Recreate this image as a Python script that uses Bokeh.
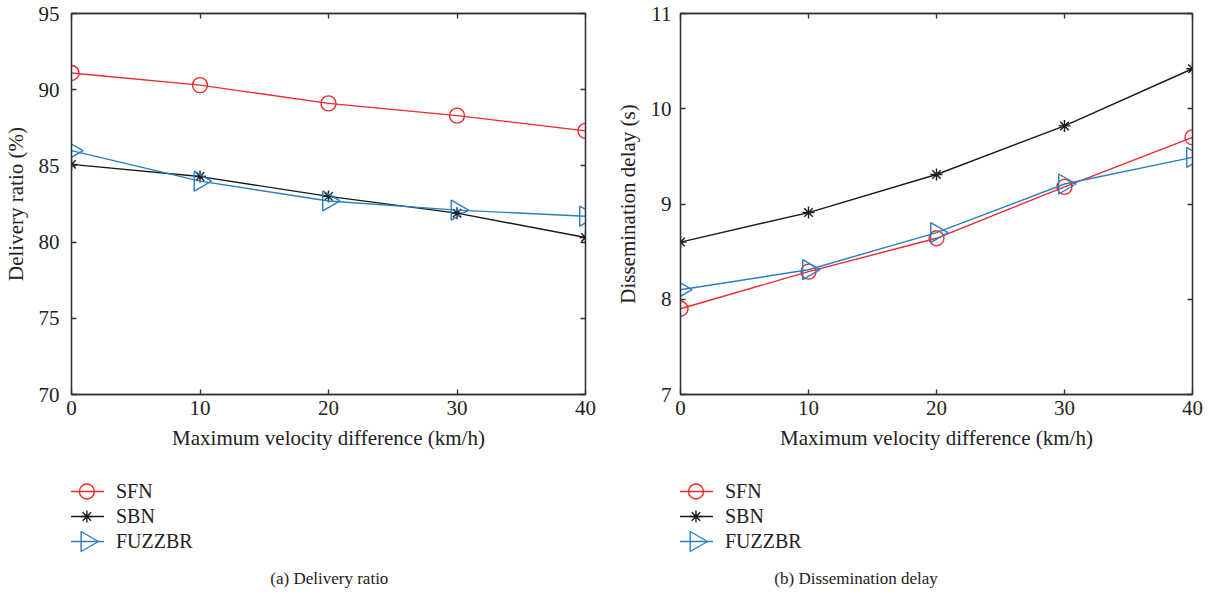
import math
from bokeh.plotting import figure
from bokeh.layouts import row, column
from bokeh.models import (Range1d, LinearAxis, FixedTicker, Legend, LegendItem, Label,
                          CustomLabelingPolicy)
from bokeh.embed import file_html
from bokeh.resources import INLINE

x_vals = [0, 10, 20, 30, 40]

ratio_sfn = [91.1, 90.3, 89.1, 88.3, 87.3]
ratio_sbn = [85.1, 84.3, 83.0, 81.9, 80.3]
ratio_fuzzbr = [86.0, 84.0, 82.7, 82.1, 81.7]

delay_sfn = [7.90, 8.29, 8.64, 9.18, 9.70]
delay_sbn = [8.60, 8.91, 9.31, 9.82, 10.42]
delay_fuzzbr = [8.10, 8.31, 8.70, 9.21, 9.49]

series_names = ["SFN", "SBN", "FUZZBR"]
x_label = "Maximum velocity difference (km/h)"
x_ticks = [0, 10, 20, 30, 40]
ratio_ticks = [70, 75, 80, 85, 90, 95]
delay_ticks = [7, 8, 9, 10, 11]

FONT = "Liberation Serif"
RED = "#ee2a2f"
BLUE = "#2b7ec0"
BLACK = "#1a1a1a"
COLORS = [RED, BLACK, BLUE]

# marker style per series: (marker, size, angle, filled-with-none)
MARKERS = {
    "SFN": ("circle", 15, 0.0),
    "SBN": ("asterisk", 12, 0.0),
    "FUZZBR": ("triangle", 20, -math.pi / 2),
}

NO_LABELS = CustomLabelingPolicy(code="""
    try {
        for (const i of Array.from(indices)) { indices.unset(i) }
    } catch (e) {}
    return indices
""")


def style_axis(ax, ticks, labels=True, standoff=8):
    ax.ticker = FixedTicker(ticks=ticks)
    ax.major_tick_in = 5
    ax.major_tick_out = 0
    ax.minor_tick_in = 0
    ax.minor_tick_out = 0
    ax.axis_line_color = "#333333"
    ax.axis_line_width = 1.3
    ax.major_tick_line_color = "#333333"
    ax.major_tick_line_width = 1.3
    ax.major_label_text_font = FONT
    ax.major_label_text_color = "#222222"
    if labels:
        ax.major_label_text_font_size = "21px"
        ax.major_label_standoff = standoff
        ax.axis_label_text_font = FONT
        ax.axis_label_text_font_size = "21px"
        ax.axis_label_text_font_style = "normal"
        ax.axis_label_text_color = "#222222"
    else:
        ax.major_label_text_font_size = "1px"
        ax.major_label_policy = NO_LABELS
        ax.major_label_standoff = 0


def add_marker(fig, name, xs, ys, color):
    marker, size, angle = MARKERS[name]
    return fig.scatter(xs, ys, marker=marker, size=size, fill_color=None,
                       line_color=color, line_width=1.4, angle=angle)


def make_panel(ys, yrange, yticks, ylabel, caption, width, border_left, frame_w,
               tick_standoff, caption_x):
    top_h = 470
    border_right = width - border_left - frame_w
    p = figure(width=width, height=top_h, output_backend="svg", toolbar_location=None,
               x_range=Range1d(0, 40), y_range=Range1d(*yrange),
               min_border_left=border_left, min_border_right=border_right,
               min_border_top=13, min_border_bottom=top_h - 13 - 381)
    p.xgrid.visible = False
    p.ygrid.visible = False
    p.outline_line_color = "#333333"
    p.outline_line_width = 1.3

    style_axis(p.xaxis[0], x_ticks, standoff=6)
    style_axis(p.yaxis[0], yticks, standoff=tick_standoff)
    p.xaxis[0].axis_label = x_label
    p.xaxis[0].axis_label_standoff = 8
    p.yaxis[0].axis_label = ylabel
    p.yaxis[0].axis_label_standoff = 8

    top = LinearAxis()
    style_axis(top, x_ticks, labels=False)
    p.add_layout(top, "above")
    right = LinearAxis()
    style_axis(right, yticks, labels=False)
    p.add_layout(right, "right")

    for name, y, c in zip(series_names, ys, COLORS):
        p.line(x_vals, y, line_color=c, line_width=1.4)
        add_marker(p, name, x_vals, y, c)

    # legend + caption area (frame aligned with the plot above)
    lh = 599 - top_h
    q = figure(width=width, height=lh, output_backend="svg", toolbar_location=None,
               x_range=Range1d(0, frame_w), y_range=Range1d(0, lh),
               min_border_left=border_left, min_border_right=border_right,
               min_border_top=0, min_border_bottom=0)
    q.axis.visible = False
    q.grid.visible = False
    q.outline_line_color = None

    leg_x, leg_y = -2, 46
    row_h, gap, key_w = 24, 1, 35
    n = len(series_names)
    leg_h = n * row_h + (n - 1) * gap
    items = []
    for i, (name, y, c) in enumerate(zip(series_names, ys, COLORS)):
        ln = q.line(x_vals, y, line_color=c, line_width=1.4, visible=False)
        items.append(LegendItem(label=name, renderers=[ln]))
        # marker of the legend key, drawn at the key's centre
        kx = leg_x + key_w / 2
        ky = leg_y + leg_h - i * (row_h + gap) - row_h / 2
        add_marker(q, name, [kx], [ky], c)

    legend = Legend(items=items, location=(leg_x, leg_y), orientation="vertical",
                    border_line_color=None, background_fill_alpha=0,
                    label_text_font=FONT, label_text_font_size="20px",
                    label_text_color="#222222", label_height=row_h,
                    glyph_width=key_w, glyph_height=row_h, spacing=gap, padding=0,
                    margin=0, label_standoff=12, click_policy="none")
    q.add_layout(legend, "center")

    cap = Label(x=caption_x, y=21, text=caption,
                text_font=FONT, text_font_size="17px", text_color="#222222",
                text_align="center", text_baseline="middle")
    q.add_layout(cap)
    return column(p, q, spacing=0)


p1 = make_panel([ratio_sfn, ratio_sbn, ratio_fuzzbr], (70, 95), ratio_ticks,
                "Delivery ratio (%)", "(a)  Delivery ratio", 612, 67, 518, 12, 329 - 67)
p2 = make_panel([delay_sfn, delay_sbn, delay_fuzzbr], (7, 11), delay_ticks,
                "Dissemination delay (s)", "(b)  Dissemination delay", 602, 67, 513, 9,
                857 - 679)

layout = row(p1, p2, spacing=0)
open("out.html", "w").write(file_html(layout, INLINE))
